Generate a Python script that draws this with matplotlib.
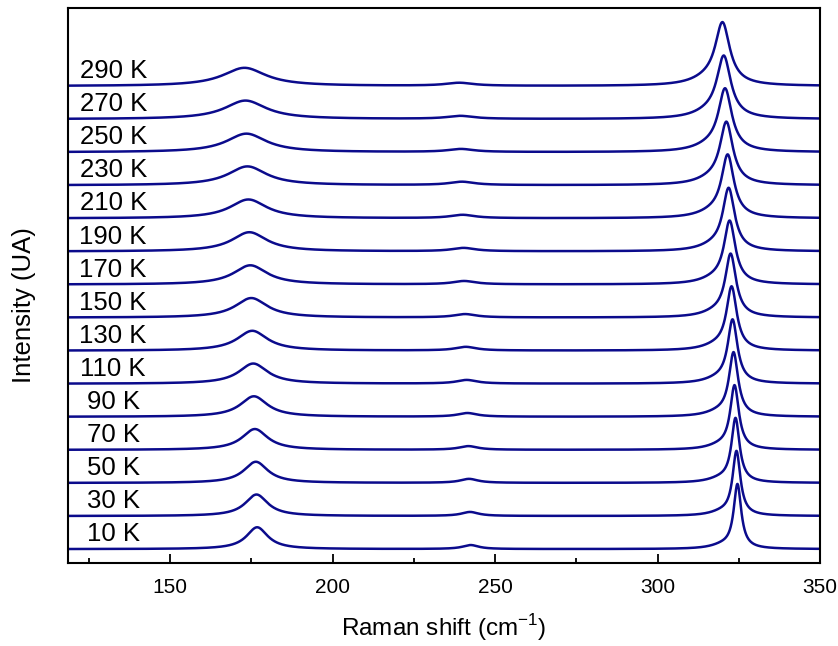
import matplotlib
matplotlib.use("Agg")
import matplotlib.pyplot as plt
import numpy as np
from matplotlib.ticker import MultipleLocator

plt.rcParams["font.family"] = ["Liberation Sans", "DejaVu Sans"]
plt.rcParams["mathtext.fontset"] = "custom"
plt.rcParams["mathtext.rm"] = "Liberation Sans"

# Temperature series, bottom to top
temps = [10, 30, 50, 70, 90, 110, 130, 150, 170, 190, 210, 230, 250, 270, 290]

# Strong mode near 320-325 cm-1
main_pos = [324.6, 324.3, 324.0, 323.7, 323.4, 323.1, 322.8, 322.5, 322.2, 321.9, 321.6, 321.2, 320.8, 320.4, 320.0]
main_fwhm = [2.8, 2.9, 3.0, 3.2, 3.4, 3.6, 3.8, 4.0, 4.2, 4.4, 4.6, 4.8, 5.0, 5.2, 5.4]
main_amp = [1.92, 1.92, 1.91, 1.90, 1.89, 1.88, 1.87, 1.86, 1.85, 1.84, 1.84, 1.83, 1.83, 1.82, 1.82]
# low-frequency shoulder on the strong mode
sh_amp = [0.10, 0.10, 0.11, 0.11, 0.12, 0.12, 0.13, 0.13, 0.14, 0.14, 0.15, 0.15, 0.16, 0.16, 0.17]
sh_fwhm = [9, 9, 9.5, 9.5, 10, 10, 10.5, 10.5, 11, 11, 11.5, 11.5, 12, 12, 12.5]

# Mode near 175 cm-1
low_pos = [176.8, 176.6, 176.4, 176.1, 175.8, 175.6, 175.3, 175.0, 174.7, 174.4, 174.1, 173.8, 173.5, 173.2, 172.9]
low_fwhm = [8.0, 8.5, 9.0, 9.6, 10.2, 10.8, 11.4, 12.0, 12.6, 13.2, 13.8, 14.4, 15.0, 15.6, 16.2]
low_amp = [0.66, 0.65, 0.64, 0.63, 0.62, 0.61, 0.60, 0.59, 0.58, 0.58, 0.57, 0.57, 0.56, 0.56, 0.55]

# Weak mode near 240 cm-1
weak_pos = [242.5, 242.3, 242.0, 241.8, 241.5, 241.3, 241.0, 240.8, 240.5, 240.3, 240.0, 239.8, 239.5, 239.3, 239.0]
weak_fwhm = [6, 6.3, 6.6, 6.9, 7.2, 7.5, 7.8, 8.1, 8.4, 8.7, 9.0, 9.3, 9.6, 9.9, 10.2]
weak_amp = [0.12, 0.12, 0.12, 0.11, 0.11, 0.11, 0.11, 0.10, 0.10, 0.10, 0.10, 0.10, 0.09, 0.09, 0.09]

_LINE = "#0b0b8c"


def lorentz(x, x0, fwhm, amp):
    g = fwhm / 2.0
    return amp * g ** 2 / ((x - x0) ** 2 + g ** 2)


x = np.linspace(118.6, 350, 2400)

fig = plt.figure(figsize=(8.38, 6.46), dpi=100)
ax = fig.add_axes([68 / 838, 83 / 646, 752 / 838, 555 / 646])

for i, t in enumerate(temps):
    y = (lorentz(x, main_pos[i], main_fwhm[i], main_amp[i])
         + lorentz(x, main_pos[i] - 4.5, sh_fwhm[i], sh_amp[i])
         + lorentz(x, low_pos[i], low_fwhm[i], low_amp[i])
         + lorentz(x, weak_pos[i], weak_fwhm[i], weak_amp[i]))
    ax.plot(x, y + i, color=_LINE, lw=1.8, solid_capstyle="butt")
    ax.text(132.5, i + 0.45, f"{t} K", ha="center", va="center", fontsize=18.5)

ax.set_xlim(118.6, 350)
ax.set_ylim(-0.42, 16.36)
ax.xaxis.set_major_locator(MultipleLocator(50))
ax.xaxis.set_minor_locator(MultipleLocator(25))
ax.tick_params(axis="x", which="major", direction="in", length=6.5, width=1.3,
               labelsize=15, pad=11, top=False)
ax.tick_params(axis="x", which="minor", direction="in", length=3.5, width=1.3, top=False)
ax.set_yticks([])
for s in ax.spines.values():
    s.set_linewidth(1.5)

ax.set_xlabel("Raman shift (cm$^{\\mathregular{-1}}$)", fontsize=17.5, labelpad=11)
ax.set_ylabel("Intensity (UA)", fontsize=18.5)
ax.yaxis.set_label_coords(-0.043, 0.465)

fig.savefig("out.png", dpi=100)
